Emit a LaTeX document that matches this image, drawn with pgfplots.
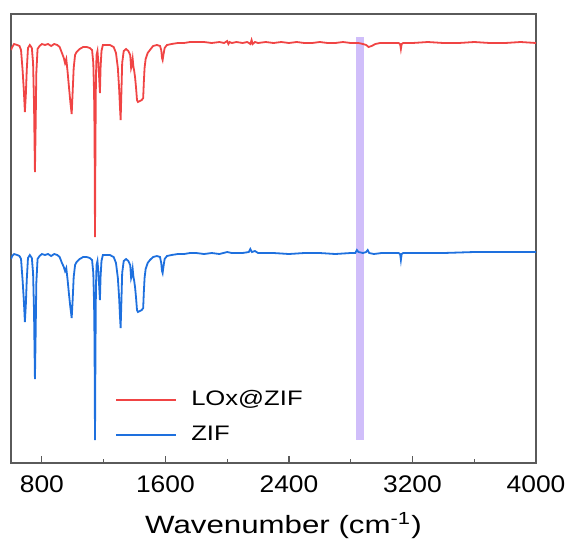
\documentclass[border=0pt]{standalone}
\usepackage{fontspec}
\setmainfont{Liberation Sans}
\usepackage{graphicx}
\usepackage{pgfplots}
\pgfplotsset{compat=1.18}
\usetikzlibrary{calc}

\definecolor{redline}{RGB}{240,68,68}
\definecolor{blueline}{RGB}{30,112,222}
\definecolor{bandcol}{RGB}{208,190,250}
\definecolor{framecol}{RGB}{90,90,90}

% FTIR spectra, y in arbitrary (offset) units
\pgfplotstableread{
wn y
600 413
608 416
620 419
640 418
655 417
665 413
675 393
683 373
690 351
696 368
702 393
710 415
722 418
735 415
743 400
749 360
755 291
759 330
764 390
772 414
785 417
800 419
820 418
840 419
860 417
880 419
900 418
915 416
930 410
942 405
950 400
958 404
966 392
976 375
985 360
993 349
999 370
1006 395
1015 408
1025 411
1045 414
1067 416
1090 416
1110 415
1125 413
1133 400
1138 370
1141 330
1144 226
1147 320
1150 385
1154 408
1160 412
1166 400
1171 385
1176 370
1180 395
1186 412
1195 418
1210 418
1240 418
1265 416
1280 410
1292 395
1300 375
1306 355
1310 343
1314 365
1320 400
1330 412
1345 414
1360 412
1372 408
1378 395
1383 398
1388 404
1393 396
1398 392
1404 385
1410 375
1416 363
1422 361
1435 362
1447 363
1456 365
1460 380
1465 395
1472 404
1485 410
1500 413
1520 417
1545 418
1565 417
1573 413
1578 405
1582 403
1587 408
1595 415
1610 418
1640 419
1680 420
1720 420
1760 421
1800 421
1850 421
1900 420
1950 421
1980 420
2000 422
2008 419
2016 421
2030 420
2060 421
2100 420
2130 421
2150 419
2158 423
2165 419
2180 421
2200 420
2250 421
2300 420
2350 421
2400 420
2450 421
2500 420
2550 420
2600 421
2650 420
2700 420
2750 421
2800 420
2850 420
2880 419
2900 418
2916 416
2935 417
2960 419
2990 420
3050 420
3110 420
3120 419
3125 414
3130 419
3140 420
3200 420
3300 421
3400 420
3500 420
3600 421
3700 420
3800 420
3900 421
4000 420
}\lox

\pgfplotstableread{
wn y
600 204
608 207
620 209
640 208
655 207
665 204
675 183
683 163
690 141
696 158
702 183
710 205
722 208
735 205
743 190
749 152
755 84
759 122
764 180
772 204
785 207
800 209
820 208
840 209
860 207
880 209
900 208
915 206
930 200
942 196
950 192
958 195
966 184
976 168
985 155
993 145
999 162
1006 186
1015 198
1025 201
1045 204
1067 206
1090 206
1110 205
1125 203
1133 190
1138 160
1141 120
1144 23
1147 110
1150 175
1154 198
1160 202
1166 191
1171 177
1176 163
1180 186
1186 202
1195 208
1210 208
1240 208
1265 206
1280 200
1292 185
1300 166
1306 146
1310 135
1314 156
1320 190
1330 202
1345 204
1360 202
1372 198
1378 185
1383 188
1388 194
1393 186
1398 182
1404 175
1410 165
1416 153
1422 151
1435 152
1447 153
1456 155
1460 170
1465 185
1472 194
1485 200
1500 203
1520 206
1545 207
1565 206
1573 200
1578 192
1582 190
1587 196
1595 204
1610 207
1640 208
1680 209
1720 209
1760 210
1800 210
1850 209
1900 210
1950 209
2000 211
2030 210
2100 210
2140 211
2150 214
2160 211
2180 212
2200 210
2300 210
2400 209
2500 210
2600 210
2700 209
2800 210
2830 210
2840 213
2850 211
2880 210
2900 211
2910 213
2920 210
2950 209
3000 210
3110 210
3120 209
3125 203
3130 209
3140 210
3200 210
3400 210
3600 211
3800 211
4000 211
}\zif

\begin{document}
\begin{tikzpicture}
\begin{axis}[
  name=ax,
  scale only axis, width=262.5pt, height=224.5pt,
  xmin=600, xmax=4000, ymin=0, ymax=449,
  axis line style={framecol, line width=0.6pt},
  xtick={800,1600,2400,3200,4000},
  minor xtick={1200,2000,2800,3600},
  xtick pos=bottom, ytick=\empty,
  tick align=inside,
  major tick length=3.5pt, minor tick length=2pt,
  every tick/.style={framecol, line width=0.6pt},
  scaled x ticks=false,
  /pgf/number format/1000 sep={},
  xticklabel={\scalebox{1.1}[1]{\pgfmathprintnumber[assume math mode=true]{\tick}}},
  xticklabel style={font=\fontsize{12}{14}\selectfont, yshift=-3pt},
  xlabel={\scalebox{1.25}[1]{Wavenumber (cm\textsuperscript{-1})}},
  xlabel style={font=\fontsize{12.5}{15}\selectfont, xshift=5pt, yshift=-3pt},
  legend style={at={(rel axis cs:0.198,0.171)}, anchor=north west,
    draw=none, fill=none, inner sep=0pt, row sep=4.5pt,
    font=\fontsize{10.5}{12}\selectfont},
  legend cell align=left,
  legend image code/.code={\draw[#1, line width=1pt] (0pt,0pt) -- (30pt,0pt); \path (35pt,0pt);},
]
\addplot[fill=bandcol, draw=none, forget plot]
  coordinates {(2832,23) (2885,23) (2885,426) (2832,426)} -- cycle;
\addplot[redline, line width=0.9pt] table[x=wn, y=y] {\lox};
\addlegendentry{\scalebox{1.22}[1]{LOx@ZIF}}
\addplot[blueline, line width=0.9pt] table[x=wn, y=y] {\zif};
\addlegendentry{\scalebox{1.22}[1]{ZIF}}
\end{axis}
\pgfresetboundingbox
\path[use as bounding box] ($(ax.south west)+(-5.5pt,-40pt)$) rectangle ($(ax.north east)+(17pt,7pt)$);
\end{tikzpicture}
\end{document}
